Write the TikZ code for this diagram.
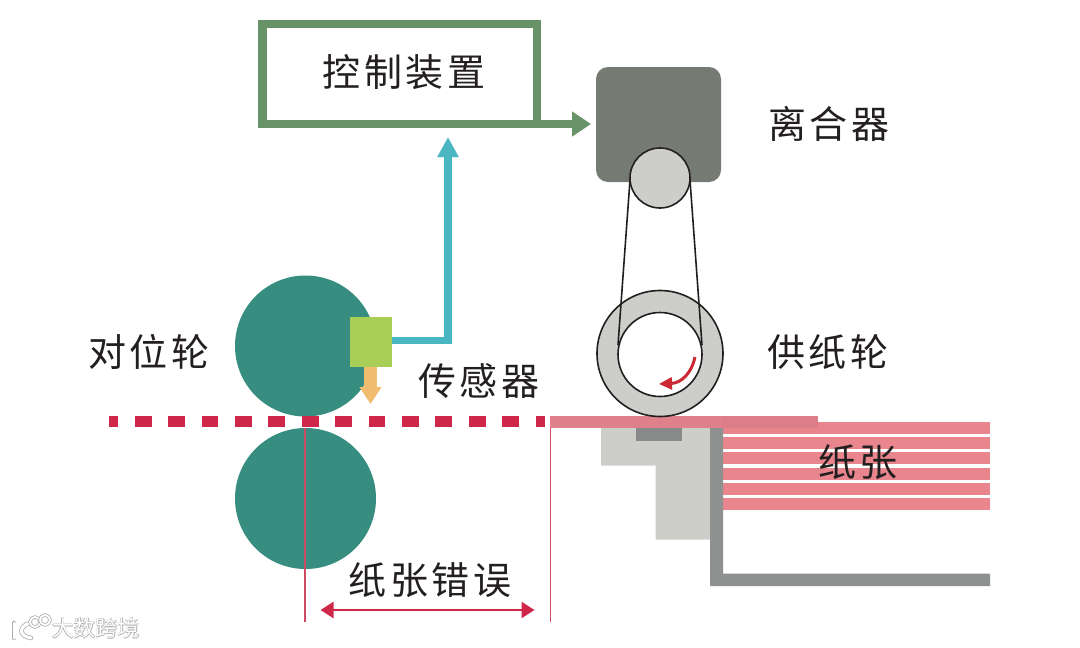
\documentclass[tikz,border=0pt]{standalone}
\usepackage{fontspec}
\setmainfont{Noto Sans CJK SC}[LetterSpace=9]
\newfontfamily\wmfont{Noto Sans CJK SC}[LetterSpace=0]
\usetikzlibrary{arrows.meta,calc}
\definecolor{ink}{HTML}{231F20}
\definecolor{ctrlgreen}{HTML}{689368}
\definecolor{clutchgrey}{HTML}{757A73}
\definecolor{palegrey}{HTML}{CDCEC9}
\definecolor{midgrey}{HTML}{8F9190}
\definecolor{roller}{HTML}{368D80}
\definecolor{sensorgreen}{HTML}{A9CE55}
\definecolor{sensororange}{HTML}{F0BC6E}
\definecolor{teal2}{HTML}{49B6C2}
\definecolor{crimson}{HTML}{CF2749}
\definecolor{sheet}{HTML}{E8858D}
\definecolor{sheettop}{HTML}{E0808B}
\definecolor{sheetover}{HTML}{DC7D88}
\definecolor{beltred}{HTML}{CB2A35}
\definecolor{guidered}{HTML}{CC4A64}
\tikzset{
  px/.style={x=1pt,y=-1pt},
  lab/.style={font=\fontsize{38}{38}\selectfont,text=ink,inner sep=0pt},
  circ/.style={circle,draw=ink,line width=1.6pt,inner sep=0pt,minimum size=#1},
  guide/.style={draw=guidered,line width=1.3pt},
}
\begin{document}
\begin{tikzpicture}[px]
\useasboundingbox[fill=white] (0,0) rectangle (1080,648);
% paper stack
\foreach \y in {422.3,437.3,452.3,467.7,482.7,497.7}
  \fill[sheet] (722,\y) rectangle (990,\y+12);
% supports
\fill[palegrey] (601,428) -- (710,428) -- (710,539.5) -- (655.7,539.5) -- (655.7,465.7) -- (601,465.7) -- cycle;
\fill[midgrey!95!black] (636,428) rectangle (681.7,441);
\fill[midgrey] (710,428) -- (723,428) -- (723,573.5) -- (990,573.5) -- (990,586) -- (710,586) -- cycle;
% rollers
\node[circle,fill=roller,inner sep=0pt,minimum size=141pt] (rollertop) at (305.5,346) {};
\node[circle,fill=roller,inner sep=0pt,minimum size=141pt] (rollerbottom) at (305.5,498.5) {};
% paper path (dashed)
\coordinate (pathstart) at (109,421.7);
\coordinate (pathend) at (545,421.7);
\draw[crimson,line width=11.5pt,dash pattern=on 16.7pt off 16.7pt,dash phase=7.6pt] (pathstart) -- (pathend);
% top sheet
\fill[sheettop] (550,416) rectangle (818,428);
\fill[sheetover] (722,416) rectangle (818,428);
% guides
\coordinate (guideAtop) at (305,428);
\coordinate (guideAbot) at (305,622);
\coordinate (guideBtop) at (550.5,428);
\coordinate (guideBbot) at (550.5,622);
\draw[guide] (guideAtop) -- (guideAbot);
\draw[guide] (guideBtop) -- (guideBbot);
\coordinate (dimL) at (320.5,610);
\coordinate (dimR) at (534.5,610);
\draw[crimson,line width=2.4pt,{Triangle[length=13pt,width=16pt]}-{Triangle[length=13pt,width=16pt]}] (dimL) -- (dimR);
% clutch and belt
\node[draw=none,fill=clutchgrey,rounded corners=12pt,minimum width=125pt,minimum height=115pt,inner sep=0pt] (clutch) at (658.5,124.5) {};
\node[circ=126pt,fill=palegrey] (feedouter) at (660,353.5) {};
\node[circ=84pt,fill=white] (feedinner) at (660,354.5) {};
\node[circ=60pt,fill=palegrey] (hub) at (660,178) {};
\coordinate (beltLtop) at (630,180);
\coordinate (beltLbot) at (618,345);
\coordinate (beltRtop) at (690,180);
\coordinate (beltRbot) at (702,345);
\draw[ink,line width=1.6pt] (beltLtop) -- (beltLbot);
\draw[ink,line width=1.6pt] (beltRtop) -- (beltRbot);
\coordinate (spinS) at (695,357);
\coordinate (spinE) at (659,384);
\draw[beltred,line width=3pt,-{Triangle[length=13pt,width=12pt]}] (spinS) .. controls (692,372) and (682,383) .. (spinE);
% control box
\node[draw=ctrlgreen,line width=8.3pt,fill=white,minimum width=274.5pt,minimum height=100pt,inner sep=0pt] (ctrl) at (399.8,74) {};
\coordinate (ctrlout) at (537,124);
\coordinate (clutchin) at (591,124);
\draw[ctrlgreen,line width=8.3pt,-{Triangle[length=19pt,width=24pt,sep=0pt]}] (ctrlout) -- (clutchin);
% sensor
\node[fill=sensorgreen,minimum width=41.7pt,minimum height=50pt,inner sep=0pt] (sensor) at (370.8,341.7) {};
\coordinate (bend) at (448,340.5);
\coordinate (ctrlin) at (448,137);
\draw[teal2,line width=7.5pt,-{Triangle[length=20pt,width=20pt,sep=0pt]}] (sensor.east |- bend) -- (bend) -- (ctrlin);
\coordinate (beamtop) at (370.5,367);
\coordinate (beamtip) at (370.5,404);
\draw[sensororange,line width=13pt,-{Triangle[length=17pt,width=21pt,sep=0pt]}] (beamtop) -- (beamtip);
% labels
\node[lab] (lctrl) at (404,72) {控制装置};
\node[lab] (lclutch) at (829,124) {离合器};
\node[lab] (lreg) at (149,352) {对位轮};
\node[lab] (lsensor) at (479,381) {传感器};
\node[lab] (lfeed) at (828,352) {供纸轮};
\node[lab] (lpaper) at (858,462) {纸张};
\node[lab] (lerror) at (430,580) {纸张错误};
% watermark
\draw[palegrey!85!black,double=white,double distance=3pt,line width=0.8pt,line cap=round] (14,623) -- (14,638);
\draw[palegrey!85!black,double=white,double distance=3pt,line width=0.8pt,line cap=round] (30,623) .. controls (19,626) and (18,636) .. (31,638);
\draw[palegrey!85!black,double=white,double distance=1.8pt,line width=0.8pt] (35,622) circle[radius=5pt];
\draw[palegrey!85!black,double=white,double distance=1.8pt,line width=0.8pt] (45,620) circle[radius=5pt];
\foreach \dx/\dy/\n in {-.8/0/a,.8/0/b,0/-.8/c,0/.8/d}
  \node[inner sep=0pt,text=palegrey!85!black,font=\wmfont\fontsize{22}{22}\selectfont] (wm\n) at (96+\dx,628.5+\dy) {大数跨境};
\node[inner sep=0pt,text=white,font=\wmfont\fontsize{22}{22}\selectfont] (wm) at (96,628.5) {大数跨境};
\end{tikzpicture}
\end{document}
